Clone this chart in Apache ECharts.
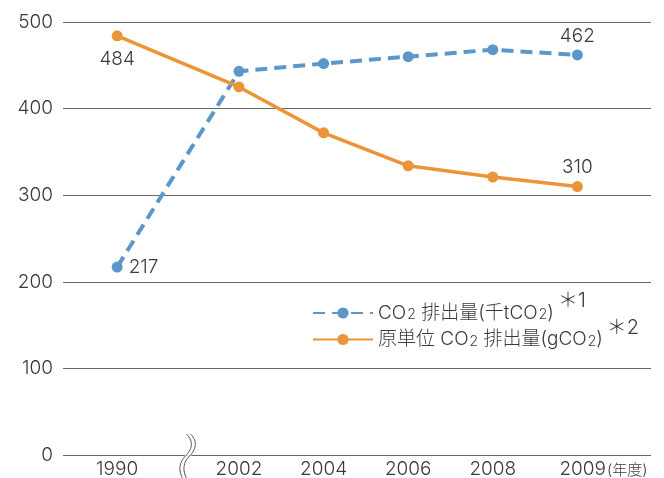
<!DOCTYPE html>
<html><head><meta charset="utf-8">
<script src="https://cdn.jsdelivr.net/npm/echarts@6/dist/echarts.min.js"></script>
<style>html,body{margin:0;padding:0;background:#fff}#c{width:664px;height:478px}</style>
</head><body><div id="c"></div>
<script>
// ---- data ----
const years = ['1990', '2002', '2004', '2006', '2008', '2009'];
const co2Emission = [217, 443, 452, 460, 468, 462];   // CO2 排出量(千tCO2)
const co2Intensity = [484, 425, 372, 334, 321, 310];  // 原単位 CO2 排出量(gCO2)
const yTicks = [0, 100, 200, 300, 400, 500];
const seriesNames = ['CO2 排出量(千tCO2)', '原単位 CO2 排出量(gCO2)'];
const unitLabel = '(年度)';

// ---- layout (broken axis: 1990 placed before a gap) ----
const BREAK_GAP = 1.44;
const xPos = years.map((y, i) => i === 0 ? 0 : BREAK_GAP + i - 1);
const FONT = 'Inter, "Noto Sans CJK JP", sans-serif';
const FW = 300;
const TXT = '#3a3a3a';
const BLUE = '#5b97c8';
const ORANGE = '#ec9438';

function buildData(values, firstPos, lastPos) {
  return values.map((v, i) => {
    const item = { value: [xPos[i], v] };
    if (i === 0 || i === values.length - 1) {
      const pos = i === 0 ? firstPos : lastPos;
      item.label = { show: true, position: pos, distance: pos === 'top' ? 4 : (pos === 'right' ? 6 : 8) };
    }
    return item;
  });
}

// axis-break squiggle (decoration)
function squiggle(dx, stroke, lw, z) {
  return [
    { type: 'bezierCurve', z: z, silent: true,
      shape: { x1: 186.5 + dx, y1: 434, cpx1: 194.5 + dx, cpy1: 442, cpx2: 191.5 + dx, cpy2: 450, x2: 185.5 + dx, y2: 456 },
      style: { fill: null, stroke: stroke, lineWidth: lw } },
    { type: 'bezierCurve', z: z, silent: true,
      shape: { x1: 185.5 + dx, y1: 456, cpx1: 179.5 + dx, cpy1: 462, cpx2: 177.5 + dx, cpy2: 470, x2: 183.5 + dx, y2: 480 },
      style: { fill: null, stroke: stroke, lineWidth: lw } }
  ];
}

const chart = echarts.init(document.getElementById('c'), null, { renderer: 'canvas' });
const labelStyle = { fontSize: 19, color: TXT, fontFamily: FONT, fontWeight: FW, formatter: p => p.value[1] };

chart.setOption({
  animation: false,
  backgroundColor: '#fff',
  textStyle: { fontFamily: FONT, fontWeight: FW },
  grid: { left: 63, right: 13, top: 22, bottom: 23, containLabel: false, outerBoundsMode: 'none' },
  xAxis: {
    type: 'value', min: -0.64, max: 6.31,
    axisLine: { show: false }, axisTick: { show: false }, splitLine: { show: false },
    axisLabel: {
      customValues: xPos, margin: 5, fontSize: 19, color: TXT, fontFamily: FONT, fontWeight: FW,
      formatter: v => {
        const i = xPos.findIndex(p => Math.abs(p - v) < 1e-6);
        if (i < 0) return '';
        return i === years.length - 1 ? '{sp| }' + years[i] + '{u|' + unitLabel + '}' : years[i];
      },
      rich: {
        sp: { width: 52, fontSize: 15 },
        u: { fontSize: 15, color: TXT, fontFamily: FONT, fontWeight: FW, padding: [2, 0, 0, 1] }
      }
    }
  },
  yAxis: {
    type: 'value', min: yTicks[0], max: yTicks[yTicks.length - 1], interval: yTicks[1] - yTicks[0],
    axisLine: { show: false }, axisTick: { show: false },
    splitLine: { show: true, lineStyle: { color: '#666', width: 1 } },
    axisLabel: { margin: 10, fontSize: 19, color: TXT, fontFamily: FONT, fontWeight: FW }
  },
  legend: {
    orient: 'vertical', left: 307, top: 286, itemWidth: 60, itemHeight: 14, itemGap: -5,
    data: seriesNames,
    formatter: name => {
      if (name === seriesNames[0]) return 'CO{s|2} 排出量(千tCO{s|2}){sup|＊1}';
      return '原単位 CO{s|2} 排出量(gCO{s|2}){sup|＊2}';
    },
    textStyle: {
      fontSize: 19, color: TXT, fontFamily: FONT, fontWeight: FW,
      rich: {
        s: { fontSize: 14, color: TXT, fontFamily: FONT, fontWeight: FW, padding: [4, 0, 0, 1] },
        sup: { fontSize: 20, color: TXT, fontFamily: FONT, fontWeight: FW, padding: [0, 0, 24, 4] }
      }
    }
  },
  series: [
    {
      name: seriesNames[0], type: 'line', data: buildData(co2Emission, 'right', 'top'),
      symbol: 'circle', symbolSize: 11, color: BLUE,
      lineStyle: { color: BLUE, width: 4, type: [12, 7] },
      itemStyle: { color: BLUE },
      label: Object.assign({}, labelStyle),
      z: 2
    },
    {
      name: seriesNames[1], type: 'line', data: buildData(co2Intensity, 'bottom', 'top'),
      symbol: 'circle', symbolSize: 11, color: ORANGE,
      lineStyle: { color: ORANGE, width: 3.5 },
      itemStyle: { color: ORANGE },
      label: Object.assign({}, labelStyle),
      z: 3
    }
  ],
  graphic: [].concat(squiggle(2, '#fff', 5, 10), squiggle(0, '#555', 1, 11), squiggle(4, '#555', 1, 11))
});
</script>
</body></html>
